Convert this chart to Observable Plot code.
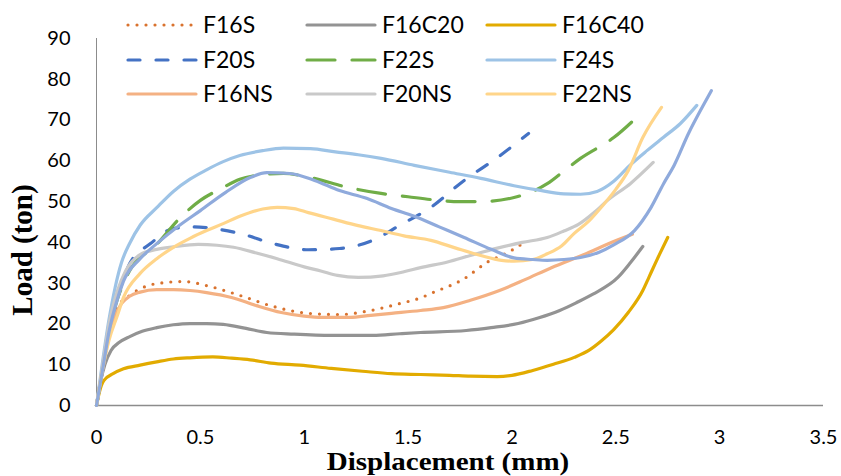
<!DOCTYPE html>
<html>
<head>
<meta charset="utf-8">
<script src="https://cdn.jsdelivr.net/npm/d3@7"></script>
<script src="https://cdn.jsdelivr.net/npm/@observablehq/plot@0.6"></script>
<style>
  html, body { margin: 0; padding: 0; background: #fff; }
  #wrap { position: relative; width: 841px; height: 476px; overflow: hidden; }
  #chart { position: absolute; left: 0; top: 0; }
  .leg { position: absolute; font-family: Lato, "Open Sans", sans-serif; font-size: 23px; color: #000; line-height: 1; white-space: nowrap; }
  .title { position: absolute; font-family: "Liberation Serif", "Times New Roman", serif; font-weight: bold; color: #000; white-space: nowrap; line-height: 1; }
</style>
</head>
<body>
<div id="wrap">
  <div id="chart"></div>
</div>
<script>
// ---- data ----
const seriesNames = ["F16S", "F16C20", "F16C40", "F20S", "F22S", "F24S", "F16NS", "F20NS", "F22NS", "F24NS"];
const legendNames = ["F16S", "F16C20", "F16C40", "F20S", "F22S", "F24S", "F16NS", "F20NS", "F22NS"];

const F16S_x = [0, 0.03, 0.06, 0.1, 0.16, 0.21, 0.29, 0.42, 0.53, 0.69, 0.85, 1.02, 1.17, 1.3, 1.46, 1.56, 1.62, 1.77, 1.88, 1.99, 2.06];
const F16S_y = [0, 10, 18, 24, 27, 28.6, 29.9, 30.4, 29.4, 27, 24.3, 22.6, 22.3, 23.1, 25, 26.4, 27.7, 31.1, 35.1, 37.8, 40];

const F16C20_x = [0, 0.02, 0.04, 0.07, 0.11, 0.16, 0.22, 0.29, 0.37, 0.45, 0.53, 0.61, 0.72, 0.82, 0.95, 1.13, 1.33, 1.46, 1.56, 1.78, 1.9, 2.03, 2.13, 2.23, 2.31, 2.39, 2.51, 2.57, 2.63];
const F16C20_y = [0, 6, 10, 13.5, 15.5, 16.9, 18.2, 19.1, 19.8, 20.1, 20.1, 19.9, 18.9, 17.9, 17.5, 17.2, 17.2, 17.6, 17.9, 18.4, 19.1, 20.1, 21.5, 23.3, 25.2, 27.3, 31.4, 35, 39];

const F16C40_x = [0, 0.015, 0.035, 0.08, 0.13, 0.21, 0.29, 0.37, 0.45, 0.56, 0.65, 0.74, 0.84, 0.98, 1.13, 1.28, 1.42, 1.56, 1.7, 1.8, 1.93, 2.0, 2.1, 2.2, 2.3, 2.37, 2.43, 2.49, 2.56, 2.63, 2.66, 2.71, 2.75];
const F16C40_y = [0, 3.5, 6.1, 7.8, 9, 9.9, 10.7, 11.4, 11.7, 11.9, 11.6, 11.2, 10.4, 9.9, 9.1, 8.4, 7.8, 7.6, 7.4, 7.2, 7.1, 7.4, 8.6, 10.1, 11.8, 13.5, 15.8, 18.6, 22.8, 28.2, 31.5, 37, 41.2];

const F20S_x = [0, 0.03, 0.06, 0.1, 0.13, 0.16, 0.26, 0.37, 0.47, 0.56, 0.69, 0.85, 1.02, 1.17, 1.33, 1.46, 1.61, 1.77, 1.93, 2.08];
const F20S_y = [0, 9, 18, 26, 31, 34.8, 39.7, 43.4, 43.8, 43.4, 42.2, 39.7, 38.2, 38.5, 40.5, 44.2, 48.6, 55.2, 60.8, 66.7];

const F22S_x = [0, 0.03, 0.06, 0.1, 0.13, 0.16, 0.29, 0.4, 0.5, 0.6, 0.69, 0.8, 0.9, 1.03, 1.21, 1.37, 1.5, 1.61, 1.75, 1.85, 2.01, 2.1, 2.17, 2.25, 2.33, 2.49, 2.62];
const F22S_y = [0, 9, 18, 26, 30, 33.1, 39.5, 45.9, 50.3, 53.2, 55.5, 56.6, 56.9, 55.9, 53.5, 52, 51.2, 50.5, 50, 50, 51, 52.5, 54.4, 57.5, 60.6, 65.7, 71.6];

const F24S_x = [0, 0.03, 0.06, 0.09, 0.12, 0.16, 0.21, 0.29, 0.37, 0.45, 0.53, 0.61, 0.69, 0.8, 0.9, 1.03, 1.15, 1.26, 1.37, 1.53, 1.7, 1.85, 2.01, 2.13, 2.25, 2.33, 2.41, 2.49, 2.57, 2.65, 2.73, 2.81, 2.89];
const F24S_y = [0, 11, 21, 29, 35, 39.8, 44.2, 48.5, 52.5, 55.5, 57.8, 59.8, 61.3, 62.5, 63.1, 63, 62.2, 61.5, 60.6, 58.9, 57.2, 55.7, 53.9, 52.8, 51.9, 51.8, 52.5, 55, 59, 62.5, 65.8, 69.1, 73.6];

const F16NS_x = [0, 0.03, 0.06, 0.09, 0.12, 0.16, 0.21, 0.29, 0.37, 0.45, 0.53, 0.65, 0.77, 0.89, 1.0, 1.09, 1.22, 1.32, 1.42, 1.56, 1.67, 1.8, 1.94, 2.06, 2.19, 2.36, 2.47, 2.58];
const F16NS_y = [0, 9, 17, 22, 25, 26.8, 27.8, 28.4, 28.4, 28.2, 27.7, 26.5, 24.5, 22.8, 21.9, 21.6, 21.6, 22.1, 22.6, 23.3, 24, 25.8, 28.2, 30.8, 33.8, 37.3, 39.8, 42];

const F20NS_x = [0, 0.03, 0.06, 0.1, 0.14, 0.21, 0.29, 0.37, 0.49, 0.58, 0.66, 0.77, 0.87, 1.0, 1.08, 1.16, 1.26, 1.38, 1.48, 1.56, 1.69, 1.8, 1.93, 2.05, 2.17, 2.25, 2.32, 2.4, 2.46, 2.57, 2.68];
const F20NS_y = [0, 10, 20, 28, 33, 37, 38.3, 38.9, 39.5, 39.3, 38.8, 37.4, 36, 34, 33, 31.9, 31.4, 31.8, 32.8, 33.8, 35.2, 36.8, 38.6, 40, 41.2, 42.8, 44.4, 47.5, 50.3, 54.4, 59.6];

const F22NS_x = [0, 0.03, 0.06, 0.1, 0.13, 0.21, 0.29, 0.37, 0.45, 0.53, 0.61, 0.69, 0.8, 0.87, 0.95, 1.02, 1.14, 1.26, 1.37, 1.48, 1.61, 1.73, 1.85, 1.95, 2.01, 2.1, 2.17, 2.24, 2.3, 2.37, 2.43, 2.5, 2.56, 2.63, 2.72];
const F22NS_y = [0, 9, 16, 22, 26.5, 32.4, 36, 38.8, 41, 42.9, 44.6, 46.4, 48.2, 48.6, 48.3, 47.3, 45.7, 44.1, 42.9, 41.6, 40.5, 38.6, 36.8, 35.6, 35.4, 35.8, 37.2, 39.2, 42.2, 45.2, 48.6, 53, 57.6, 65.7, 73.1];

const F24NS_x = [0, 0.03, 0.06, 0.1, 0.13, 0.21, 0.29, 0.4, 0.5, 0.62, 0.74, 0.82, 0.93, 1.05, 1.17, 1.3, 1.42, 1.53, 1.65, 1.77, 1.9, 2.01, 2.1, 2.17, 2.25, 2.33, 2.42, 2.49, 2.59, 2.67, 2.73, 2.78, 2.85, 2.92, 2.96];
const F24NS_y = [0, 9, 18, 26, 30.5, 36, 39.7, 44.2, 47.8, 52.2, 55.9, 57.1, 56.9, 55.2, 52.7, 50.8, 48.3, 46.4, 43.8, 41.2, 38.3, 36.2, 35.8, 35.6, 35.8, 36.3, 37.6, 39.4, 42.9, 48.6, 54.4, 58.8, 66.7, 73.5, 77.2];

const xTicks = [0, 0.5, 1, 1.5, 2, 2.5, 3, 3.5];
const yTicks = [0, 10, 20, 30, 40, 50, 60, 70, 80, 90];

// ---- styles ----
const colors = {
  F16S: "#d9722e", F16C20: "#939393", F16C40: "#e2ab00", F20S: "#4472c4", F22S: "#70ad47",
  F24S: "#9dc3e6", F16NS: "#f4b183", F20NS: "#c9c9c9", F22NS: "#ffd58a", F24NS: "#8faadc"
};
const dashes = { F16S: "0 9", F20S: "12 16", F22S: "28 17" };

const seriesData = {
  F16S: [F16S_x, F16S_y], F16C20: [F16C20_x, F16C20_y], F16C40: [F16C40_x, F16C40_y],
  F20S: [F20S_x, F20S_y], F22S: [F22S_x, F22S_y], F24S: [F24S_x, F24S_y],
  F16NS: [F16NS_x, F16NS_y], F20NS: [F20NS_x, F20NS_y], F22NS: [F22NS_x, F22NS_y], F24NS: [F24NS_x, F24NS_y]
};

const lineMarks = seriesNames.map(name => {
  const [xs, ys] = seriesData[name];
  const rows = xs.map((x, i) => ({ x, y: ys[i] }));
  return Plot.line(rows, {
    x: "x", y: "y", stroke: colors[name], strokeWidth: 3.2,
    strokeDasharray: dashes[name] || null, strokeLinecap: "round", strokeLinejoin: "round",
    curve: "monotone-x"
  });
});

const chart = Plot.plot({
  width: 841, height: 476,
  marginLeft: 96, marginRight: 18, marginTop: 38, marginBottom: 71,
  style: { fontFamily: "Lato, 'Open Sans', sans-serif", fontSize: "20px", color: "#000", background: "transparent" },
  x: { domain: [0, 3.5], ticks: xTicks, tickFormat: d => String(d), tickSize: 0, tickPadding: 24, label: null },
  y: { domain: [0, 90], ticks: yTicks, tickFormat: d => String(d), tickSize: 0, tickPadding: 26, label: null },
  marks: [
    Plot.ruleX([0], { stroke: "#8c8c8c", strokeWidth: 1 }),
    Plot.ruleY([0], { stroke: "#8c8c8c", strokeWidth: 1.5 }),
    ...lineMarks
  ]
});
document.getElementById("chart").appendChild(chart);

// ---- legend (HTML overlay, 3 columns x 3 rows) ----
const wrap = document.getElementById("wrap");
const colLeft = [127, 306, 486];
const rowCenter = [25, 60, 94];
legendNames.forEach((name, i) => {
  const c = i % 3, r = Math.floor(i / 3);
  const sw = document.createElementNS("http://www.w3.org/2000/svg", "svg");
  sw.setAttribute("width", 72); sw.setAttribute("height", 10);
  sw.style.position = "absolute";
  sw.style.left = (colLeft[c] - 1) + "px";
  sw.style.top = (rowCenter[r] - 5) + "px";
  const ln = document.createElementNS("http://www.w3.org/2000/svg", "line");
  ln.setAttribute("x1", 2); ln.setAttribute("x2", 70);
  ln.setAttribute("y1", 5); ln.setAttribute("y2", 5);
  ln.setAttribute("stroke", colors[name]);
  ln.setAttribute("stroke-width", 3.2);
  ln.setAttribute("stroke-linecap", "round");
  if (dashes[name]) ln.setAttribute("stroke-dasharray", dashes[name]);
  sw.appendChild(ln);
  wrap.appendChild(sw);
  const t = document.createElement("div");
  t.className = "leg";
  t.textContent = name;
  t.style.left = (colLeft[c] + 76) + "px";
  t.style.top = (rowCenter[r] - 12) + "px";
  wrap.appendChild(t);
});

// ---- axis titles ----
const xt = document.createElement("div");
xt.className = "title";
xt.textContent = "Displacement (mm)";
xt.style.fontSize = "25px";
xt.style.left = "448px"; xt.style.top = "449px";
xt.style.transform = "translateX(-50%) scaleX(1.16)";
wrap.appendChild(xt);

const yt = document.createElement("div");
yt.className = "title";
yt.textContent = "Load (ton)";
yt.style.fontSize = "29px";
yt.style.left = "22px"; yt.style.top = "250px";
yt.style.transform = "translate(-50%, -50%) rotate(-90deg)";
wrap.appendChild(yt);
</script>
</body>
</html>
